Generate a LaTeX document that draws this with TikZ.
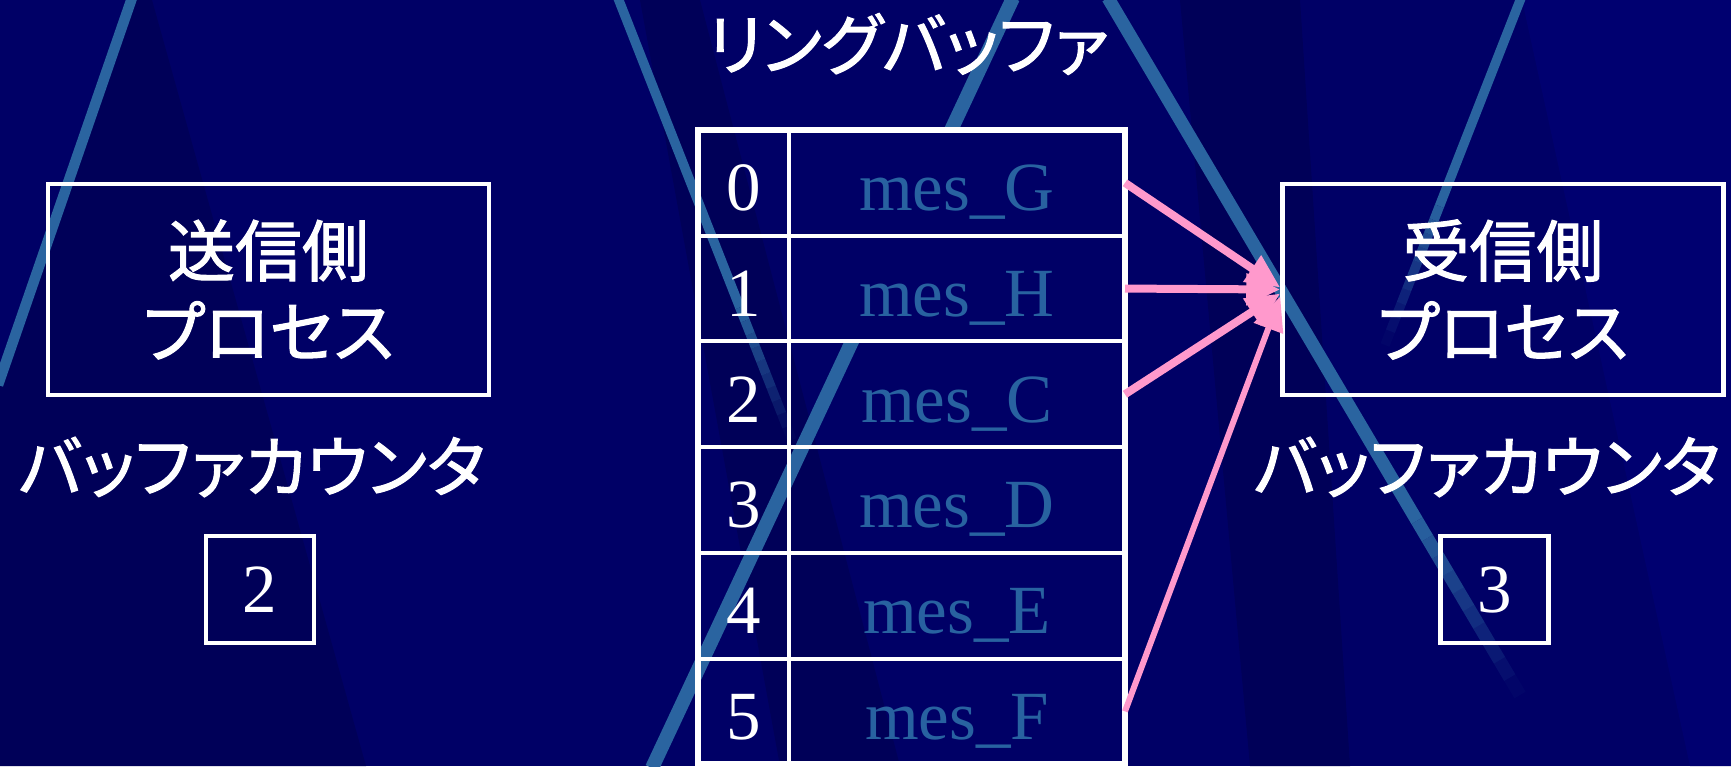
\documentclass[tikz,border=0pt]{standalone}
\usepackage{fontspec}
\setmainfont{Liberation Serif}
\newfontfamily\jpfont[RawFeature=+palt,FakeBold=1.6]{Noto Sans CJK JP}
\usetikzlibrary{arrows.meta,calc}
\definecolor{bg}{RGB}{0,0,102}
\definecolor{bgdark}{RGB}{0,0,88}
\definecolor{bglight}{RGB}{0,0,112}
\definecolor{stripecol}{RGB}{42,100,160}
\definecolor{mesblue}{RGB}{40,98,160}
\definecolor{pinkarrow}{RGB}{255,153,204}
\newcommand\bgstripe[4]{%
  \draw[stripecol, line width=#3] (#1) -- ($(#1)!#4!(#2)$);
  \foreach \k in {0,...,9}{%
    \pgfmathsetmacro\fa{#4+(1-#4)*\k/10}%
    \pgfmathsetmacro\fb{#4+(1-#4)*(\k+1)/10}%
    \pgfmathsetmacro\op{1-(\k+0.5)/10}%
    \draw[stripecol, line width=#3, opacity=\op] ($(#1)!\fa!(#2)$) -- ($(#1)!\fb!(#2)$);
  }}
\begin{document}
\begin{tikzpicture}[x=1pt,y=-1pt,line cap=butt,
  jptext/.style={text=white,font=\jpfont\fontsize{67}{81}\selectfont,inner sep=0pt},
  procbox/.style={draw=white,line width=4.5pt,minimum width=441pt,minimum height=211pt,align=center,jptext},
  cntbox/.style={draw=white,line width=4.5pt,minimum width=108pt,minimum height=107pt,inner sep=0pt,text=white,font=\fontsize{69}{80}\selectfont},
  cell/.style={draw=white,line width=4pt,minimum height=105.7pt,inner sep=0pt,outer sep=0pt,text height=56pt,text depth=0pt,font=\fontsize{69}{80}\selectfont},
  idxcell/.style={cell,minimum width=91pt,text=white},
  mescell/.style={cell,minimum width=336pt,text=mesblue},
  flow/.style={draw=pinkarrow,line width=8pt,-{Triangle[length=34pt,width=30pt]}}
]
\useasboundingbox (0,0) rectangle (1731,766);
% background
\fill[bg] (0,0) rectangle (1731,766);
\fill[bgdark] (133,0) -- (152,0) -- (366,766) -- (0,766) -- (0,380) -- cycle;
\fill[bgdark] (640,0) -- (700,0) -- (900,766) -- (780,766) -- cycle;
\fill[bglight] (1522,0) -- (1731,0) -- (1731,766) -- (1690,766) -- cycle;
\fill[bgdark] (1180,0) -- (1300,0) -- (1350,766) -- (1250,766) -- cycle;
% stripes
\bgstripe{133,-5}{-2,385}{10.5pt}{1}
\bgstripe{618,-2}{792,440}{9.5pt}{0.7}
\bgstripe{1013,-2}{652,768}{14pt}{1}
\bgstripe{1108,-2}{1520,695}{13pt}{0.75}
\bgstripe{1521,-2}{1385,345}{9.5pt}{0.6}
% opaque message cells rows 0-1
\fill[bg] (789,130) rectangle (1125,341.4);
% title
\node[jptext] (title) at (908,44) {リングバッファ};
% ring buffer table
\foreach \i/\d/\m in {0/0/G,1/1/H,2/2/C,3/3/D,4/4/E,5/5/F}{
  \pgfmathsetmacro\yc{130+105.7*(\i+0.5)}
  \node[idxcell] (idx\i) at (743.5,\yc) {\d};
  \node[mescell] (mes\i) at (957,\yc) {mes\_\m};
}
\draw[white,line width=6pt] (idx0.north west) rectangle (mes5.south east);
% processes
\node[procbox] (send) at (268.5,289.5) {送信側\\プロセス};
\node[procbox] (recv) at (1503,289.5) {受信側\\プロセス};
% counters
\node[jptext] (sendlbl) at (252,467) {バッファカウンタ};
\node[jptext] (recvlbl) at (1487,467) {バッファカウンタ};
\node[cntbox] (sendcnt) at (260,589.5) {2};
\node[cntbox] (recvcnt) at (1494.5,589.5) {3};
% arrows
\draw[flow] (mes0.east) -- ([yshift=2pt]recv.west);
\draw[flow] (mes1.east) -- (recv.west);
\draw[flow] (mes2.east) -- ([yshift=-4pt]recv.west);
\draw[flow,line width=6pt] (mes5.east) -- ([yshift=-7pt]recv.west);
\end{tikzpicture}
\end{document}
